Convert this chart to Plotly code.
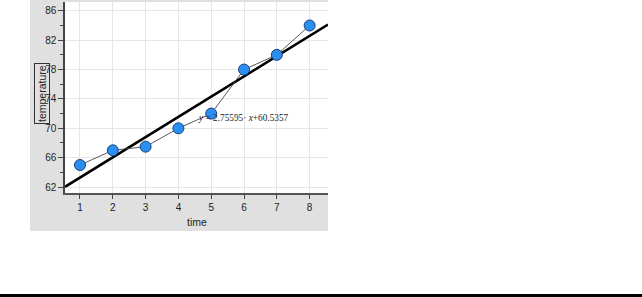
import plotly.graph_objects as go
import numpy as np

time = [1, 2, 3, 4, 5, 6, 7, 8]
temperature = [65, 67, 67.5, 70, 72, 78, 80, 84]
slope = 2.75595
intercept = 60.5357
equation = "<i>y</i> = 2.75595· <i>x</i>+60.5357"

W, H = 642, 297
L, R, T, B = 65, 328, 2, 193  # plot area in px

def px_x(p):
    return (p - L) / (R - L)

def px_y(p):
    return (B - p) / (B - T)

xr = [0.543, 8.56]
yr = [61.19, 87.2]
lx = np.array(xr)

fig = go.Figure()
fig.add_trace(go.Scatter(x=list(lx), y=list(slope * lx + intercept), mode="lines",
                         line=dict(color="black", width=2.6), hoverinfo="skip"))
fig.add_trace(go.Scatter(x=time, y=temperature, mode="lines+markers",
                         line=dict(color="#444444", width=0.9),
                         marker=dict(size=11, color="#2b8ff2", line=dict(color="#1a3f7a", width=1))))

shapes = [
    dict(type="rect", xref="paper", yref="paper", x0=px_x(30), x1=px_x(328), y0=px_y(231), y1=px_y(0),
         fillcolor="#e0e0e0", line=dict(width=0), layer="below"),
    dict(type="rect", xref="paper", yref="paper", x0=0, x1=1, y0=0, y1=1,
         fillcolor="white", line=dict(width=0), layer="below"),
    dict(type="rect", xref="paper", yref="paper", x0=px_x(-2), x1=px_x(W + 2), y0=px_y(297.5), y1=px_y(294),
         fillcolor="black", line=dict(width=0)),
]

annotations = [
    dict(text=equation, x=px_x(196), y=px_y(118), xref="paper", yref="paper", xanchor="left", yanchor="middle",
         showarrow=False, font=dict(family="Liberation Serif", size=9.3, color="#222222")),
    dict(text="temperature", x=px_x(42), y=px_y(94), xref="paper", yref="paper", xanchor="center", yanchor="middle",
         textangle=-90, showarrow=False, font=dict(family="Liberation Sans", size=10.5, color="#222222"),
         bordercolor="#333333", borderwidth=1, borderpad=1),
    dict(text="time", x=px_x(197), y=px_y(222), xref="paper", yref="paper", xanchor="center", yanchor="middle",
         showarrow=False, font=dict(family="Liberation Sans", size=10.5, color="#222222")),
]

fig.update_layout(
    width=W, height=H,
    margin=dict(l=L, r=W - R, t=T, b=H - B),
    paper_bgcolor="white", plot_bgcolor="white",
    showlegend=False,
    shapes=shapes, annotations=annotations,
    xaxis=dict(range=xr, tickvals=time, ticks="outside", ticklen=4, tickcolor="#444444",
               showline=True, linecolor="#555555", linewidth=1.5,
               gridcolor="#e6e6e6", gridwidth=1, zeroline=False,
               tickfont=dict(family="Liberation Sans", size=10, color="#222222")),
    yaxis=dict(range=yr, tickvals=[62, 66, 70, 74, 78, 82, 86], ticks="outside", ticklen=5, tickcolor="#444444",
               showline=True, linecolor="#444444", linewidth=1.5,
               gridcolor="#e6e6e6", gridwidth=1, zeroline=False,
               minor=dict(tickvals=[64, 68, 72, 76, 80, 84], ticks="outside", ticklen=3, tickcolor="#444444", showgrid=False),
               tickfont=dict(family="Liberation Sans", size=10, color="#222222")),
)

fig.write_html("out.html")
